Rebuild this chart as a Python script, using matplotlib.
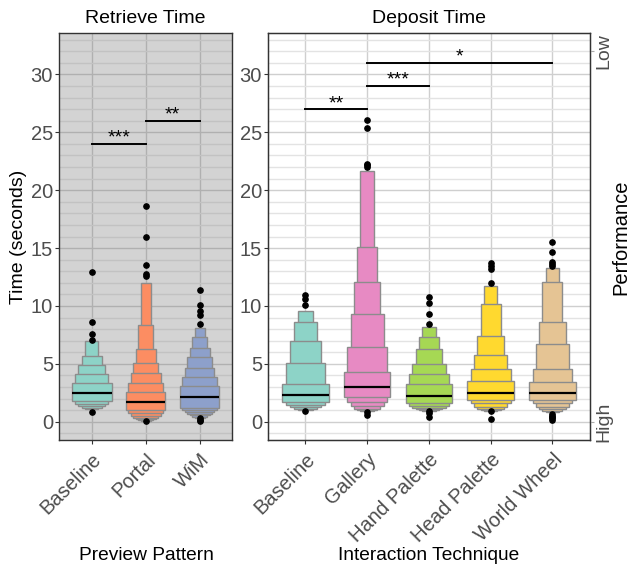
import matplotlib
matplotlib.use("Agg")
from matplotlib import pyplot as plt
from matplotlib.patches import Rectangle
import numpy as np

plt.rcParams['font.family'] = ['Liberation Sans', 'DejaVu Sans']

# Donnees : valeurs des "letter values" (bornes sup / inf de chaque niveau)
retrieve_names = ["Baseline", "Portal", "WiM"]
retrieve_colors = ["#8DD3C7", "#FC8D62", "#8DA0CB"]
retrieve_median = [2.45, 1.68, 2.16]
retrieve_upper = [
    [3.32, 4.09, 4.87, 5.67, 6.97],
    [2.59, 3.32, 4.24, 5.10, 6.25, 8.35, 12.0],
    [3.05, 3.87, 4.67, 5.57, 6.40, 7.28, 8.07],
]
retrieve_lower = [
    [1.79, 1.53, 1.33, 1.18, 1.07],
    [1.01, 0.72, 0.49, 0.35, 0.22, 0.12, 0.06],
    [1.21, 0.98, 0.81, 0.66, 0.55, 0.43, 0.35],
]
retrieve_outliers = [
    [7.05, 7.55, 8.6, 12.9, 0.86],
    [12.55, 12.8, 13.5, 16.0, 18.6, 0.02],
    [8.45, 9.25, 9.6, 10.05, 11.35, 0.05, 0.15, 0.28],
]

deposit_names = ["Baseline", "Gallery", "Hand Palette", "Head Palette", "World Wheel"]
deposit_colors = ["#8DD3C7", "#E78AC3", "#A6D854", "#FFD92F", "#E5C494"]
deposit_median = [2.33, 3.03, 2.22, 2.50, 2.45]
deposit_upper = [
    [3.23, 5.04, 7.0, 8.58, 9.56],
    [4.27, 6.42, 9.27, 12.1, 15.06, 21.7],
    [3.23, 4.12, 4.98, 6.25, 7.29, 8.17],
    [3.54, 4.52, 5.76, 7.40, 10.14, 11.75],
    [3.40, 4.55, 6.71, 8.64, 12.04, 13.25],
]
deposit_lower = [
    [1.73, 1.44, 1.24, 1.13, 1.05],
    [2.16, 1.73, 1.36, 1.12, 1.02, 0.95],
    [1.59, 1.38, 1.20, 1.08, 1.00, 0.95],
    [1.87, 1.59, 1.30, 1.10, 0.98, 0.90],
    [1.87, 1.59, 1.30, 1.08, 0.92, 0.85],
]
deposit_outliers = [
    [10.08, 10.6, 10.94, 0.92],
    [22.0, 22.15, 22.3, 25.4, 26.1, 0.86, 0.55],
    [8.44, 9.27, 10.22, 10.8, 0.92, 0.72, 0.43],
    [11.95, 13.19, 13.48, 13.74, 0.92, 0.23],
    [13.48, 13.62, 13.82, 14.63, 15.5, 0.68, 0.5, 0.4, 0.3, 0.15],
]

# Barres de significativite : (groupe debut, groupe fin, hauteur, etoiles)
retrieve_signif = [(0, 1, 24, "***"), (1, 2, 26, "**")]
deposit_signif = [(0, 1, 27, "**"), (1, 2, 29, "***"), (1, 4, 31, "*")]

YMIN, YMAX = -1.58, 33.58


def draw_lv(ax, names, colors, medians, uppers, lowers, outliers, width):
    for i in range(len(names)):
        n = len(uppers[i])
        k = n + 1
        # les niveaux externes (etroits et hauts) d'abord, le plus large par-dessus
        for lvl in reversed(range(n)):
            w = width * (k - lvl) / k
            rect = Rectangle((i - w / 2, lowers[i][lvl]), w, uppers[i][lvl] - lowers[i][lvl],
                             facecolor=colors[i], edgecolor="#8c8c8c", linewidth=1.0,
                             zorder=3 + (n - lvl) * 0.01)
            ax.add_patch(rect)
        ax.plot([i - width / 2, i + width / 2], [medians[i], medians[i]], color="black", lw=1.6, zorder=4,
                solid_capstyle="butt")
        ax.plot(np.full(len(outliers[i]), i), outliers[i], "o", color="black", ms=3.8, zorder=5)


def style_axes(ax, names, bg, minor_col, major_col):
    ax.set_facecolor(bg)
    ax.set_xlim(-0.6, len(names) - 0.4)
    ax.set_ylim(YMIN, YMAX)
    ax.set_xticks(range(len(names)))
    ax.set_xticklabels(names, rotation=45, ha="right", va="top", rotation_mode="anchor",
                       fontsize=14.5, color="#4d4d4d")
    ax.set_yticks(np.arange(0, 31, 5))
    ax.set_yticks([v for v in range(-1, 34) if v % 5 != 0], minor=True)
    ax.tick_params(axis="y", which="major", labelsize=14.5, labelcolor="#4d4d4d", length=3,
                   color="#333333", pad=1.5)
    ax.tick_params(axis="x", length=3, color="#333333", pad=4)
    ax.tick_params(which="minor", length=0)
    ax.grid(which="minor", axis="y", color=minor_col, lw=1.0, zorder=0)
    ax.grid(which="major", color=major_col, lw=1.0, zorder=0)
    ax.set_axisbelow(True)
    for s in ax.spines.values():
        s.set_color("#333333")
        s.set_linewidth(1.0)


def draw_signif(ax, signif):
    for a, b, y, stars in signif:
        ax.plot([a, b], [y, y], color="black", lw=1.4, zorder=6)
        ax.text((a + b) / 2, y - 0.25, stars, ha="center", va="bottom", fontsize=14, zorder=6)


fig = plt.figure(figsize=(6.31, 5.71), dpi=100)
ax1 = fig.add_axes([59.3 / 631, 131 / 571, (232 - 59.3) / 631, 407 / 571])
ax2 = fig.add_axes([268.3 / 631, 131 / 571, (589.5 - 268.3) / 631, 407 / 571])

style_axes(ax1, retrieve_names, "#d3d3d3", "#c2c2c2", "#b0b0b0")
style_axes(ax2, deposit_names, "white", "#e3e3e3", "#cfcfcf")

draw_lv(ax1, retrieve_names, retrieve_colors, retrieve_median, retrieve_upper, retrieve_lower,
        retrieve_outliers, 0.735)
draw_lv(ax2, deposit_names, deposit_colors, deposit_median, deposit_upper, deposit_lower,
        deposit_outliers, 0.753)
draw_signif(ax1, retrieve_signif)
draw_signif(ax2, deposit_signif)

ax1.set_title("Retrieve Time", fontsize=14, pad=7)
ax2.set_title("Deposit Time", fontsize=14, pad=7)

# Axe secondaire : performance
ax3 = ax2.twinx()
ax3.set_ylim(YMIN, YMAX)
ax3.set_yticks([0, 32])
ax3.set_yticklabels(["High", "Low"], rotation=90, va="center", fontsize=14, color="#4d4d4d")
ax3.tick_params(axis="y", length=3, color="#aaaaaa", pad=1)
for s in ax3.spines.values():
    s.set_color("#333333")

# Titres d'axes places a la main
fig.text(19 / 631, 1 - 237 / 571, "Time (seconds)", rotation=90, ha="center", va="center", fontsize=14)
fig.text(621 / 631, 1 - 237 / 571, "Performance", rotation=90, ha="center", va="center", fontsize=14.5)
fig.text(146 / 631, 1 - 555 / 571, "Preview Pattern", ha="center", va="center", fontsize=13.8)
fig.text(429 / 631, 1 - 555 / 571, "Interaction Technique", ha="center", va="center", fontsize=13.8)

fig.savefig("out.png", dpi=100)
